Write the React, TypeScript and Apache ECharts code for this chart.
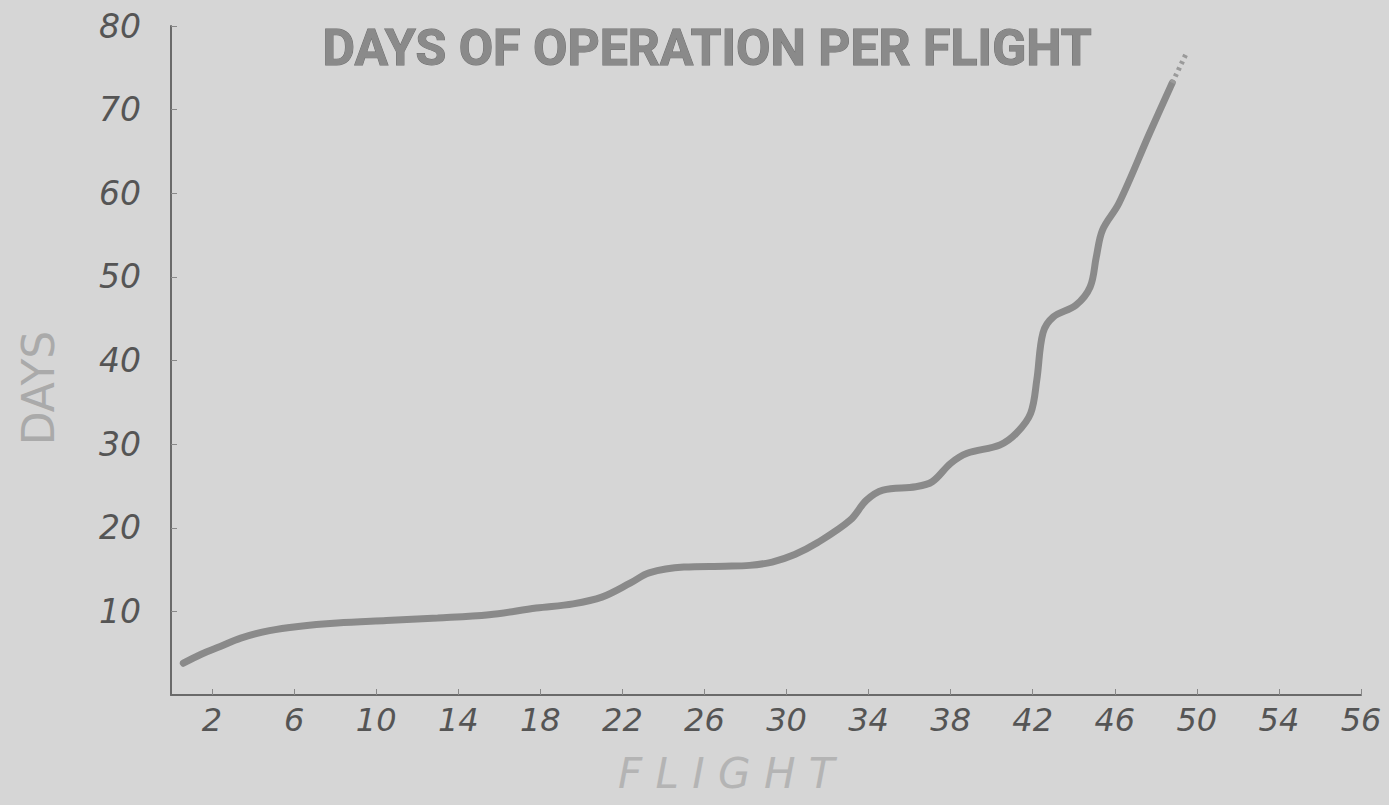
import React, { useEffect, useRef } from "react";
import * as echarts from "echarts";

const flights = [0.6, 1.5, 2.4, 3.4, 4.8, 6.2, 8.1, 10.5, 13.0, 15.5, 17.8, 19.6, 21.0, 22.4, 23.3, 25.0, 27.0, 28.2, 29.3, 30.4, 31.5, 33.1, 33.9, 34.7, 36.3, 37.1, 38.0, 38.8, 40.4, 41.2, 41.9, 42.2, 42.5, 43.0, 44.1, 44.8, 45.1, 45.4, 46.2, 47.7, 48.8];
const days = [3.8, 4.9, 5.8, 6.8, 7.7, 8.2, 8.6, 8.9, 9.2, 9.6, 10.4, 10.9, 11.7, 13.4, 14.6, 15.3, 15.4, 15.5, 15.9, 16.8, 18.2, 20.9, 23.3, 24.5, 24.9, 25.5, 27.7, 28.9, 29.9, 31.3, 33.7, 37.7, 43.3, 45.2, 46.6, 48.8, 52.4, 55.6, 58.8, 67.2, 73.2];
const dottedFlights = [48.8, 49.5];
const dottedDays = [73.2, 76.8];

const xTickValues = [2, 6, 10, 14, 18, 22, 26, 30, 34, 38, 42, 46, 50, 54, 58];
const xTickLabels = ["2", "6", "10", "14", "18", "22", "26", "30", "34", "38", "42", "46", "50", "54", "56"];
const yTickValues = [10, 20, 30, 40, 50, 60, 70, 80];

const titleText = "DAYS OF OPERATION PER FLIGHT";
const xName = "F L I G H T";
const yName = "DAYS";

export default function App() {
  const ref = useRef<HTMLDivElement>(null);
  useEffect(() => {
    if (!ref.current) return;
    const chart = echarts.init(ref.current, null, { renderer: "svg" });
    const mainData = flights.map((f, i) => [f, days[i]]);
    const dotData = dottedFlights.map((f, i) => [f, dottedDays[i]]);
    const labelMap: Record<number, string> = {};
    xTickValues.forEach((v, i) => (labelMap[v] = xTickLabels[i]));
    chart.setOption({
      animation: false,
      backgroundColor: "#d6d6d6",
      grid: { left: 171, top: 26, width: 1190, height: 669 },
      xAxis: {
        type: "value",
        min: 0,
        max: 58,
        splitLine: { show: false },
        axisLine: { show: true, lineStyle: { color: "#6a6a6a", width: 2 } },
        axisTick: {
          show: true,
          inside: true,
          length: 6,
          customValues: xTickValues,
          lineStyle: { color: "#888", width: 1 },
        },
        axisLabel: {
          customValues: xTickValues,
          formatter: (v: number) => labelMap[v] ?? "",
          color: "#555",
          fontFamily: "DejaVu Sans",
          fontStyle: "italic",
          fontSize: 32,
          margin: 9,
        },
      },
      yAxis: {
        type: "value",
        min: 0,
        max: 80,
        interval: 10,
        splitLine: { show: false },
        axisLine: { show: true, lineStyle: { color: "#6a6a6a", width: 2 } },
        axisTick: {
          show: true,
          inside: true,
          length: 6,
          customValues: yTickValues,
          lineStyle: { color: "#888", width: 1 },
        },
        axisLabel: {
          customValues: yTickValues,
          color: "#555",
          fontFamily: "DejaVu Sans",
          fontStyle: "italic",
          fontSize: 33,
          margin: 30,
        },
      },
      series: [
        {
          type: "line",
          data: mainData,
          smooth: 0.35,
          showSymbol: false,
          lineStyle: { color: "#8a8a8a", width: 7, cap: "round" },
        },
        {
          type: "line",
          data: dotData,
          showSymbol: false,
          lineStyle: { color: "#9a9a9a", width: 5, type: [3, 4] },
        },
      ],
      graphic: [
        {
          type: "text",
          left: 322,
          top: 22,
          style: {
            text: titleText,
            fill: "#8a8a8a",
            stroke: "#6e6e6e",
            lineWidth: 1,
            fontFamily: "Roboto",
            fontWeight: "bold",
            fontSize: 50,
          },
        },
        {
          type: "text",
          left: 618,
          top: 752,
          style: {
            text: xName,
            fill: "#b4b4b4",
            fontFamily: "DejaVu Sans",
            fontStyle: "italic",
            fontSize: 42,
          },
        },
        {
          type: "text",
          x: 38,
          y: 388,
          rotation: Math.PI / 2,
          style: {
            text: yName,
            fill: "#aaaaaa",
            fontFamily: "DejaVu Sans",
            fontSize: 44,
            align: "center",
            verticalAlign: "middle",
          },
        },
      ],
    });
    return () => chart.dispose();
  }, []);
  return (
    <div
      ref={ref}
      style={{ position: "absolute", left: 0, top: 0, width: 1389, height: 805 }}
    />
  );
}
